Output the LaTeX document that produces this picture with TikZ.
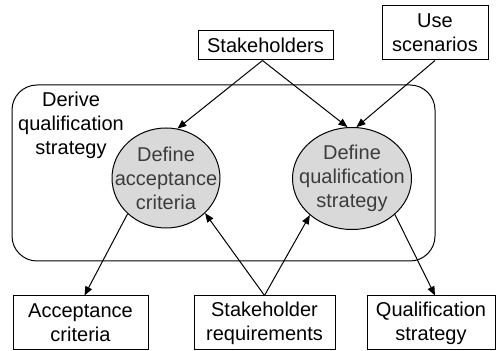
\documentclass[tikz,border=0pt]{standalone}
\usepackage{fontspec}
\setmainfont{Liberation Sans}
\usetikzlibrary{shapes.geometric,arrows.meta}
\definecolor{ellfill}{RGB}{217,217,217}
\definecolor{elltext}{RGB}{60,60,60}
\begin{document}
\begin{tikzpicture}[x=0.5pt,y=-0.5pt,
  box/.style={draw,line width=0.5pt,inner sep=0pt,align=center},
  proc/.style={draw,line width=0.5pt,ellipse,fill=ellfill,inner sep=0pt},
  proctext/.style={align=center,text=elltext,inner sep=0pt},
  arr/.style={line width=0.5pt,-{Triangle[length=4.5pt,width=3.6pt]}}]
\useasboundingbox (0,0) rectangle (498,351);
% container
\node[draw,line width=0.5pt,rounded corners=12.5pt,minimum width=211.5pt,minimum height=88pt,inner sep=0pt] (frame) at (223.5,173) {};
\node[align=center,inner sep=0pt] (lbl) at (71,125) {Derive\\qualification\\strategy};
% top boxes
\node[box,minimum width=67.5pt,minimum height=14.5pt] (stake) at (265.5,45.5) {Stakeholders};
\node[box,minimum width=53pt,minimum height=27pt] (use) at (435,33) {Use\\scenarios};
% ellipses
\node[proc,minimum width=54pt,minimum height=50pt] (ellA) at (166,178) {};
\node[proctext] (tA) at (ellA.center) {Define\\acceptance\\criteria};
\node[proc,minimum width=59.5pt,minimum height=51pt] (ellB) at (352,178.5) {};
\node[proctext] (tB) at (ellB.center) {Define\\qualification\\strategy};
% bottom boxes
\node[box,minimum width=67.5pt,minimum height=27pt] (acc) at (80.5,323) {Acceptance\\criteria};
\node[box,minimum width=70.5pt,minimum height=27pt] (req) at (264.5,323) {Stakeholder\\requirements};
\node[box,minimum width=64pt,minimum height=27pt] (qual) at (431,323) {Qualification\\strategy};
% connectors
\draw[arr] ([xshift=-1.5pt]stake.south) -- (ellA.77);
\draw[arr] ([xshift=-1.5pt]stake.south) -- (ellB.95);
\draw[arr] (use.south) -- (ellB.85);
\draw[arr] (ellA.223) -- ([xshift=2pt]acc.north);
\draw[arr] (req.north) -- (ellA.318);
\draw[arr] (req.north) -- (ellB.221);
\draw[arr] (ellB.320) -- ([xshift=2pt]qual.north);
\end{tikzpicture}
\end{document}
